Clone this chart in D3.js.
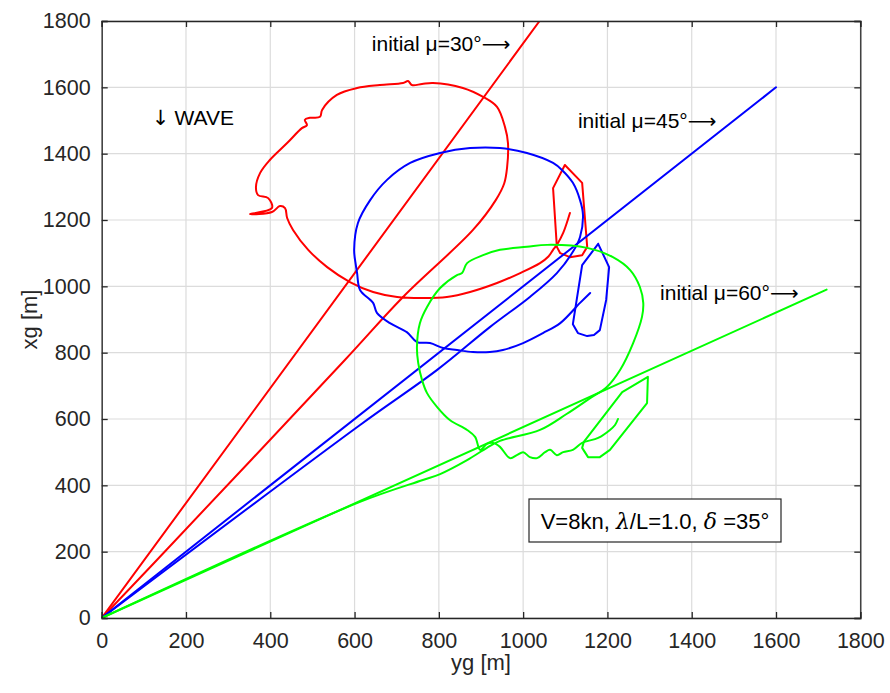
<!DOCTYPE html>
<html><head><meta charset="utf-8">
<script src="https://cdn.jsdelivr.net/npm/d3@7"></script>
<style>
body{margin:0;background:#fff;}
text{font-family:"Liberation Sans",Arial,Helvetica,sans-serif;}
</style></head>
<body><svg id="c" width="890" height="693"></svg>
<script>
// ---- data (yg, xg) in metres ----
const xTicks = [0,200,400,600,800,1000,1200,1400,1600,1800];
const yTicks = [0,200,400,600,800,1000,1200,1400,1600,1800];

const refRed = [[0,0],[1039,1800]];
const refBlue = [[0,0],[1600,1600]];
const refGreen = [[0,0],[1720,990]];

const trajRed = [[0,0],[131,175],[577,778],[715,968],[881,1170],[935,1260],[955,1310],[962,1360],[964,1432],[957,1480],[938,1541],[905,1571],[857,1598],[786,1613],[760,1610],[736,1607],[727,1619],[715,1613],[660,1607],[606,1598],[558,1577],[523,1532],[518,1511],[494,1508],[482,1502],[487,1486],[475,1477],[440,1432],[399,1381],[376,1342],[366,1299],[371,1275],[395,1266],[404,1236],[352,1218],[404,1224],[423,1242],[435,1236],[440,1206],[454,1170],[490,1110],[535,1058],[589,1013],[644,983],[701,968],[762,965],[819,968],[874,983],[938,1010],[993,1040],[1040,1070],[1060,1090],[1071,1110],[1080,1125],[1095,1161],[1111,1221]];
const hullRed = [[1099,1366],[1140,1312],[1152,1119],[1140,1094],[1111,1088],[1088,1100],[1080,1119],[1071,1296],[1099,1366]];

const trajBlue = [[0,0],[613,582],[796,748],[921,877],[1016,968],[1080,1040],[1118,1104],[1135,1149],[1142,1215],[1135,1260],[1118,1312],[1092,1351],[1071,1372],[1009,1402],[945,1417],[874,1417],[803,1402],[732,1372],[677,1321],[637,1260],[608,1191],[599,1110],[603,1064],[606,1040],[613,989],[644,950],[653,920],[684,889],[724,862],[748,832],[779,829],[810,814],[843,808],[881,802],[921,802],[952,808],[1000,829],[1047,859],[1088,889],[1135,950],[1159,980]];
const hullBlue = [[1178,1128],[1204,1058],[1197,959],[1182,868],[1168,853],[1152,850],[1130,859],[1118,886],[1140,1064],[1178,1128]];

const trajGreen = [[0,0],[613,350],[762,416],[803,434],[867,476],[914,513],[945,534],[1040,567],[1103,615],[1159,663],[1198,696],[1230,748],[1261,829],[1282,908],[1285,950],[1277,998],[1254,1049],[1213,1088],[1152,1116],[1057,1125],[1009,1119],[945,1110],[905,1094],[867,1070],[855,1040],[843,1034],[803,995],[772,938],[755,889],[748,817],[751,769],[760,718],[772,678],[796,636],[826,597],[867,567],[886,546],[898,507],[914,525],[929,528],[945,516],[969,482],[985,491],[1000,500],[1016,485],[1033,482],[1052,500],[1064,507],[1080,491],[1095,500],[1118,507],[1140,528],[1178,543],[1206,567],[1218,582],[1225,600]];
const hullGreen = [[1296,727],[1294,648],[1206,507],[1182,485],[1154,485],[1140,513],[1144,531],[1235,681],[1296,727]];

const labels = [
  {t:"initial μ=30°", x:641, y:1731},
  {t:"initial μ=45°", x:1130, y:1501},
  {t:"initial μ=60°", x:1325, y:980}
];
const waveLabel = {t:"WAVE", x:119, y:1510};

// ---- layout ----
const svg = d3.select("#c");
const L=101.7, R=860.3, T=21, B=618;
const x = d3.scaleLinear().domain([0,1800]).range([L,R]);
const y = d3.scaleLinear().domain([0,1800]).range([B,T]);

// grid
const g = svg.append("g");
g.selectAll(".vg").data(xTicks).enter().append("line")
  .attr("x1",d=>x(d)).attr("x2",d=>x(d)).attr("y1",T).attr("y2",B)
  .attr("stroke","#dcdcdc").attr("stroke-width",1.2);
g.selectAll(".hg").data(yTicks).enter().append("line")
  .attr("y1",d=>y(d)).attr("y2",d=>y(d)).attr("x1",L).attr("x2",R)
  .attr("stroke","#dcdcdc").attr("stroke-width",1.2);

svg.append("defs").append("clipPath").attr("id","clip")
  .append("rect").attr("x",L).attr("y",T).attr("width",R-L).attr("height",B-T);

const smooth = d3.line().x(d=>x(d[0])).y(d=>y(d[1])).curve(d3.curveCatmullRom.alpha(0.5));
const straight = d3.line().x(d=>x(d[0])).y(d=>y(d[1]));
const plot = svg.append("g").attr("clip-path","url(#clip)");
const series = [
  [refRed,"#ff0000",straight],[trajRed,"#ff0000",smooth],[hullRed,"#ff0000",straight],
  [refBlue,"#0000ff",straight],[trajBlue,"#0000ff",smooth],[hullBlue,"#0000ff",straight],
  [refGreen,"#00ff00",straight],[trajGreen,"#00ff00",smooth],[hullGreen,"#00ff00",straight]
];
series.forEach(([d,c,ln])=>{
  plot.append("path").datum(d).attr("d",ln)
    .attr("fill","none").attr("stroke",c).attr("stroke-width",2)
    .attr("stroke-linejoin","round").attr("stroke-linecap","round");
});

// axes (ticks inward, box)
const axCol="#262626";
const xb = svg.append("g").attr("transform",`translate(0,${B})`)
  .call(d3.axisBottom(x).tickValues(xTicks).tickSize(-6).tickPadding(15).tickFormat(d3.format("d")));
const xt = svg.append("g").attr("transform",`translate(0,${T})`)
  .call(d3.axisTop(x).tickValues(xTicks).tickSize(-6).tickFormat(""));
const yl = svg.append("g").attr("transform",`translate(${L},0)`)
  .call(d3.axisLeft(y).tickValues(yTicks).tickSize(-6).tickPadding(11).tickFormat(d3.format("d")));
const yr = svg.append("g").attr("transform",`translate(${R},0)`)
  .call(d3.axisRight(y).tickValues(yTicks).tickSize(-6).tickFormat(""));
[xb,xt,yl,yr].forEach(a=>{
  a.select(".domain").attr("stroke",axCol).attr("stroke-width",1.3);
  a.selectAll(".tick line").attr("stroke",axCol).attr("stroke-width",1.3);
  a.selectAll("text").attr("fill",axCol).attr("font-size",21.5)
   .attr("font-family","'Liberation Sans',Arial,sans-serif");
});

// axis labels
svg.append("text").attr("x",(L+R)/2).attr("y",670).attr("text-anchor","middle")
  .attr("font-size",22).attr("fill",axCol).text("yg [m]");
svg.append("text").attr("transform",`translate(37,${(T+B)/2}) rotate(-90)`)
  .attr("text-anchor","middle").attr("font-size",22).attr("fill",axCol).text("xg [m]");

// annotations
labels.forEach(l=>{
  const t = svg.append("text").attr("x",x(l.x)).attr("y",y(l.y)).attr("dy","0.35em")
    .attr("font-size",21).attr("fill","#000");
  t.append("tspan").text(l.t);
  t.append("tspan").attr("font-family","'DejaVu Sans',sans-serif").attr("font-size",20).text("⟶");
});
const wt = svg.append("text").attr("x",x(waveLabel.x)).attr("y",y(waveLabel.y)).attr("dy","0.35em")
  .attr("font-size",21).attr("fill","#000");
wt.append("tspan").attr("font-family","'DejaVu Sans',sans-serif").text("↓");
wt.append("tspan").attr("dx",5).text(waveLabel.t);

// box annotation
svg.append("rect").attr("x",529).attr("y",499).attr("width",252).attr("height",43)
  .attr("fill","#fff").attr("stroke","#262626").attr("stroke-width",1.2);
const bt = svg.append("text").attr("x",655).attr("y",529).attr("text-anchor","middle")
  .attr("font-size",22).attr("fill","#000");
bt.append("tspan").text("V=8kn, ");
bt.append("tspan").attr("font-style","italic").attr("font-family","'DejaVu Serif',serif").text("λ");
bt.append("tspan").text("/L=1.0, ");
bt.append("tspan").attr("font-style","italic").attr("font-family","'DejaVu Serif',serif").text("δ");
bt.append("tspan").text(" =35°");
</script></body></html>
